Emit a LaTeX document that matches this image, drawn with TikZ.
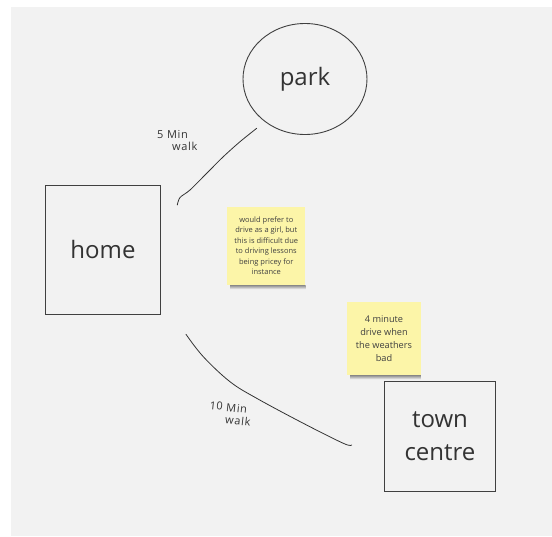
\documentclass[tikz,border=0pt]{standalone}
\usepackage{fontspec}
\setmainfont{Open Sans}
\usepackage{tikz}
\usetikzlibrary{shapes.geometric,calc}
\definecolor{board}{HTML}{F2F2F2}
\definecolor{sticky}{HTML}{FCF5A8}
\colorlet{ink}{black!80}
\tikzset{
  place/.style={draw=black!75,line width=0.9pt,text=ink,inner sep=0pt,align=center,font=\fontsize{24}{33}\selectfont},
  route/.style={ink,line width=0.8pt,line cap=round},
  scrawl/.style={text=ink,align=left,inner sep=0pt,font=\fontsize{11}{12.5}\selectfont\addfontfeatures{LetterSpace=6}},
  note/.style={fill=sticky,inner sep=0pt,align=center,text=black!75}
}
\begin{document}
\begin{tikzpicture}[x=1pt,y=-1pt]
\useasboundingbox (0,0) rectangle (552,536);
\fill[white] (0,0) rectangle (552,536);
\fill[board] (11,7) rectangle (552,536);
% places
\node[place,ellipse,minimum width=124pt,minimum height=111pt] (park) at (305,79) {park};
\node[place,rectangle,minimum width=114.6pt,minimum height=129pt] (home) at (103,249.5) {home};
\node[place,rectangle,minimum width=110.3pt,minimum height=109.5pt] (town) at (440,436.3) {town\\centre};
% walking routes
\coordinate (parkend) at (256.7,128.3);
\coordinate (homeup) at (177.3,205);
\coordinate (homedown) at (186,334.3);
\coordinate (townend) at (351.7,445);
\draw[route] plot[smooth,tension=0.5] coordinates {(parkend) (240,141.7) (223.3,156.7) (206.7,173.3) (190,190) (180,197.5) (homeup)};
\draw[route] plot[smooth,tension=0.6] coordinates {(homedown) (203.3,356.7) (230,381.7) (256.7,398.3) (303.3,423.3) (343.3,443.3) (townend)};
\node[scrawl,anchor=north west] (walkfive) at (157,130) {5 Min\\\hspace*{15pt}walk};
\node[scrawl,anchor=north west,rotate=-6] (walkten) at (210,401) {10 Min\\\hspace*{17pt}walk};
% sticky notes
\node[note,minimum width=78pt,minimum height=78.3pt,font=\fontsize{7.5}{10.5}\selectfont] (drivenote) at (266.3,245.8)
  {would prefer to\\drive as a girl, but\\this is difficult due\\to driving lessons\\being pricey for\\instance};
\shade[top color=black!45,bottom color=board] ($(drivenote.south west)+(3,0)$) rectangle ($(drivenote.south east)+(0,4)$);
\node[note,minimum width=73.4pt,minimum height=72.7pt,font=\fontsize{9.2}{12.8}\selectfont] (weathernote) at (384,338.7)
  {4 minute\\drive when\\the weathers\\bad};
\shade[top color=black!45,bottom color=board] ($(weathernote.south west)+(3,0)$) rectangle ($(weathernote.south east)+(0,4)$);
\end{tikzpicture}
\end{document}
